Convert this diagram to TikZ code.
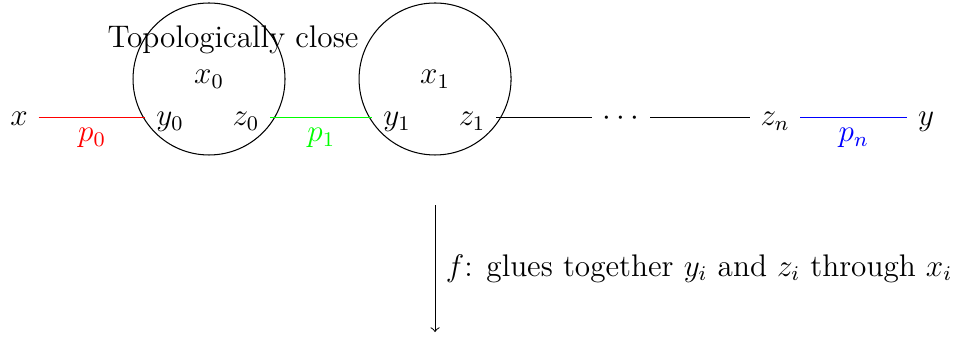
\documentclass[tikz,12pt,border=0pt]{standalone}
\begin{document}
\begin{tikzpicture}[x=1.095cm,y=1.095cm]
\tikzset{pt/.style={text height=1.5ex, text depth=.25ex}}
\useasboundingbox (0,1.443) rectangle (11.898,-2.725);
\node[draw, circle, minimum size=2.052cm] (c0) at (2.577,0.469) {$x_0$};
\node[draw, circle, minimum size=2.052cm] (c1) at (5.364,0.469) {$x_1$};
\node (top) at (2.873,0.949) {Topologically close};
\node[pt] (x) at (0.234,0) {$x$};
\node[pt] (y0) at (2.096,0) {$y_0$};
\node[pt] (z0) at (3.033,0) {$z_0$};
\node[pt] (y1) at (4.895,0) {$y_1$};
\node[pt] (z1) at (5.820,0) {$z_1$};
\node[pt] (dots) at (7.657,0) {$\cdots$};
\node[pt] (zn) at (9.556,0) {$z_n$};
\node[pt] (y) at (11.418,0) {$y$};
\draw[red] (x.east) -- node[below] {$p_0$} (y0.west);
\draw[green] (z0.east) -- node[below] {$p_1$} (y1.west);
\draw (z1.east) -- (dots.west);
\draw (dots.east) -- (zn.west);
\draw[blue] (zn.east) -- node[below] {$p_n$} (y.west);
\coordinate (a) at (5.364,-1.085);
\coordinate (b) at (5.364,-2.651);
\draw[->] (a) -- node[right] {$f$: glues together $y_i$ and $z_i$ through $x_i$} (b);
\end{tikzpicture}
\end{document}
